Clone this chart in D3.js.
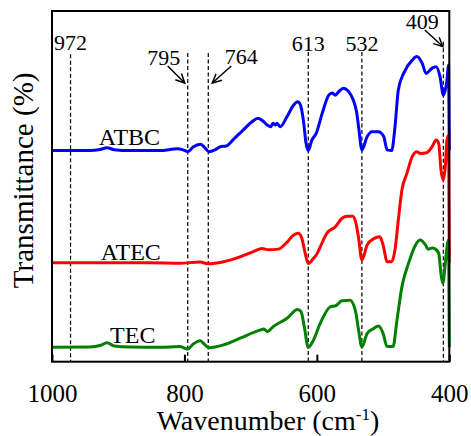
<!DOCTYPE html>
<html>
<head>
<meta charset="utf-8">
<script src="https://cdn.jsdelivr.net/npm/d3@7"></script>
<style>
  body { margin: 0; background: #fff; }
  svg text { font-family: "Liberation Serif", "LiberationSerif", "Times New Roman", Tinos, "DejaVu Serif", serif; fill: #000; }
</style>
</head>
<body>
<svg id="chart" width="471" height="436"></svg>
<script>
// wavenumber (cm-1), transmittance (arbitrary, offset per curve)
const atbc = [
  [1000, 60.2], [943, 60.2], [927.5, 60.5], [917, 61.0], [906, 60.45], [882, 60.2],
  [837, 60.2], [811, 60.7], [802, 60.4], [795, 59.9], [787, 61.2], [776, 62.0],
  [770, 61.2], [763, 59.9], [754, 60.4], [746, 61.3], [737, 61.5], [726, 63.4],
  [711, 66.1], [698, 68.4], [689, 69.4], [682, 68.7], [675, 67.5], [669.5, 67.0],
  [666.5, 68.0], [663, 67.5], [660.4, 68.0], [655.4, 67.0], [645, 69.9], [635, 73.2],
  [629, 74.1], [625, 73.3], [620, 68.3], [616.6, 62.6], [613, 60.2], [607.5, 63.2],
  [601, 65.1], [592, 70.8], [582, 76.0], [577, 76.6], [572, 76.0], [567, 77.0],
  [560, 78.0], [552, 77.0], [545, 74.6], [540, 71.2], [537, 67.0], [532, 60.4],
  [524, 64.2], [517, 65.6], [507, 65.6], [499, 64.2], [494, 60.4], [487, 60.2],
  [482, 67.0], [477, 77.5], [469, 82.2], [456, 86.0], [449, 87.0], [441, 85.1],
  [435, 82.2], [426, 83.7], [420, 84.1], [414, 81.3], [409, 76.0], [403.5, 80.3],
  [401, 84.6], [400, 60.2]
];
const atec = [
  [1000, 28.2], [927, 28.2], [852, 28.2], [807, 28.1], [776, 28.4], [764, 27.9],
  [741, 28.5], [716, 29.9], [696, 31.4], [683, 32.3], [673, 31.9], [658, 32.1],
  [645, 34.1], [635, 36.1], [628, 36.6], [622.6, 35.1], [617.6, 30.9], [613, 28.0],
  [605, 29.5], [600, 30.7], [595, 32.7], [585, 36.6], [572, 38.5], [562, 40.9],
  [554, 41.5], [546, 41.5], [541, 39.5], [537, 35.3], [532, 29.0], [524, 33.3],
  [514, 35.1], [505, 35.6], [500, 33.3], [494, 28.5], [487, 28.5], [482, 31.9],
  [477, 40.4], [471.5, 49.0], [464, 53.7], [456, 58.5], [449, 59.9], [444, 59.4],
  [434, 59.6], [426, 61.3], [420, 63.2], [416, 62.3], [412.6, 54.7], [409, 51.8],
  [406, 55.6], [403.5, 63.2], [401, 64.6], [400, 28.2]
];
const tec = [
  [1000, 4.1], [943, 4.2], [927.5, 4.6], [917, 5.4], [906, 4.5], [882, 4.2],
  [837, 4.1], [807, 4.3], [795, 3.6], [787, 5.0], [776, 6.0], [770, 5.0],
  [763, 4.0], [741, 4.8], [716, 6.7], [686, 9.0], [680, 9.3], [675, 8.6],
  [666, 10.0], [645, 12.4], [629, 14.9], [624, 14.3], [619, 10.0], [613, 4.1],
  [605, 6.2], [595, 10.9], [580, 15.6], [571, 16.0], [562, 17.4], [550, 17.5],
  [542, 14.7], [537, 9.0], [532, 4.2], [524, 8.1], [514, 9.5], [507, 10.2],
  [500, 8.1], [494, 4.3], [485, 4.3], [479, 11.9], [471.5, 21.4], [461.5, 28.1],
  [451, 33.3], [444, 34.7], [436, 33.3], [432, 32.1], [426, 32.4], [421, 32.1],
  [416, 30.9], [412, 24.2], [409.6, 22.4], [406, 28.1], [402.6, 33.8], [401, 34.7],
  [400, 4.1]
];

const seriesNames = ["ATBC", "ATEC", "TEC"];
const seriesColors = ["#0000ff", "#ff0000", "#008000"];
const seriesLabelPos = [[883, 61.8], [881, 29.1], [878, 5.4]];

const peaks = [972, 795, 764, 613, 532, 409];
const peakTop = [87.7, 88.0, 88.0, 88.3, 88.3, 91.2];
const xTicks = [1000, 800, 600, 400];

const width = 471, height = 436;
const margin = { top: 11, right: 21.7, bottom: 74.3, left: 52 };

const svg = d3.select("#chart");

const x = d3.scaleLinear()
  .domain([1000, 400])
  .range([margin.left, width - margin.right]);

const y = d3.scaleLinear()
  .domain([0, 100])
  .range([height - margin.bottom, margin.top]);

// dashed peak markers
svg.append("g")
  .selectAll("line")
  .data(peaks)
  .enter().append("line")
    .attr("x1", d => x(d))
    .attr("x2", d => x(d))
    .attr("y1", (d, i) => y(peakTop[i]))
    .attr("y2", y(0))
    .attr("stroke", "#000")
    .attr("stroke-width", 1.2)
    .attr("stroke-dasharray", "4,2.5");

// spectra
const line = d3.line()
  .x(d => x(d[0]))
  .y(d => y(d[1]))
  .curve(d3.curveMonotoneX);

const spectra = [atbc, atec, tec];
svg.append("g")
  .selectAll("path")
  .data(spectra)
  .enter().append("path")
    .attr("fill", "none")
    .attr("stroke", (d, i) => seriesColors[i])
    .attr("stroke-width", 3)
    .attr("stroke-linejoin", "round")
    .attr("d", line);

// series labels
svg.append("g")
  .selectAll("text")
  .data(seriesNames)
  .enter().append("text")
    .attr("x", (d, i) => x(seriesLabelPos[i][0]))
    .attr("y", (d, i) => y(seriesLabelPos[i][1]))
    .attr("text-anchor", "middle")
    .style("font-size", "24px")
    .text(d => d);

// peak labels
const peakLabel = [
  { wn: 972, dx: 0, v: 88.9 },
  { wn: 795, dx: -24, v: 84.6 },
  { wn: 764, dx: 33, v: 85.0 },
  { wn: 613, dx: 0, v: 88.7 },
  { wn: 532, dx: 0, v: 88.7 },
  { wn: 409, dx: -21, v: 95.0 }
];
svg.append("g")
  .selectAll("text")
  .data(peakLabel)
  .enter().append("text")
    .attr("x", d => x(d.wn) + d.dx)
    .attr("y", d => y(d.v))
    .attr("text-anchor", "middle")
    .style("font-size", "22px")
    .text(d => d.wn);

// arrows from labels to their lines
const arrows = [
  { wn: 795, from: [-20, 66], to: [-3, 83] },
  { wn: 764, from: [23, 66], to: [4, 83] },
  { wn: 409, from: [-18.5, 30], to: [-0.5, 46.5] }
];
const arrowG = svg.append("g")
  .attr("stroke", "#000")
  .attr("stroke-width", 1.5)
  .attr("fill", "none");
arrows.forEach(a => {
  const x1 = x(a.wn) + a.from[0], y1 = a.from[1];
  const x2 = x(a.wn) + a.to[0], y2 = a.to[1];
  arrowG.append("line")
    .attr("x1", x1).attr("y1", y1)
    .attr("x2", x2).attr("y2", y2);
  const ang = Math.atan2(y2 - y1, x2 - x1);
  const len = 10, spread = 0.45;
  const p1 = [x2 - len * Math.cos(ang - spread), y2 - len * Math.sin(ang - spread)];
  const p2 = [x2 - len * Math.cos(ang + spread), y2 - len * Math.sin(ang + spread)];
  arrowG.append("path")
    .attr("d", `M${p1[0]},${p1[1]}L${x2},${y2}L${p2[0]},${p2[1]}`);
});

// frame
svg.append("rect")
  .attr("x", x(1000))
  .attr("y", y(100))
  .attr("width", x(400) - x(1000))
  .attr("height", y(0) - y(100))
  .attr("fill", "none")
  .attr("stroke", "#000")
  .attr("stroke-width", 2);

// x axis ticks (inward) and labels
const xAxis = d3.axisBottom(x)
  .tickValues(xTicks)
  .tickSizeInner(-7)
  .tickSizeOuter(0)
  .tickPadding(16)
  .tickFormat(d3.format("d"));

const gx = svg.append("g")
  .attr("transform", `translate(0,${y(0)})`)
  .call(xAxis);
gx.attr("font-family", null).attr("font-size", null);
gx.select(".domain").remove();
gx.selectAll(".tick line").attr("stroke", "#000").attr("stroke-width", 2);
gx.selectAll(".tick text")
  .attr("y", 40)
  .attr("dy", 0)
  .style("font-size", "25px")
  .attr("fill", "#000");

// axis titles
const xTitle = svg.append("text")
  .attr("x", 268)
  .attr("y", 430)
  .attr("text-anchor", "middle")
  .style("font-size", "28px");
xTitle.append("tspan").text("Wavenumber (cm");
xTitle.append("tspan").attr("dy", -10).style("font-size", "17px").text("-1");
xTitle.append("tspan").attr("dy", 10).text(")");

svg.append("text")
  .attr("transform", `translate(33,${(y(0) + y(100)) / 2 - 6}) rotate(-90)`)
  .attr("text-anchor", "middle")
  .style("font-size", "29px")
  .text("Transmittance (%)");
</script>
</body>
</html>
